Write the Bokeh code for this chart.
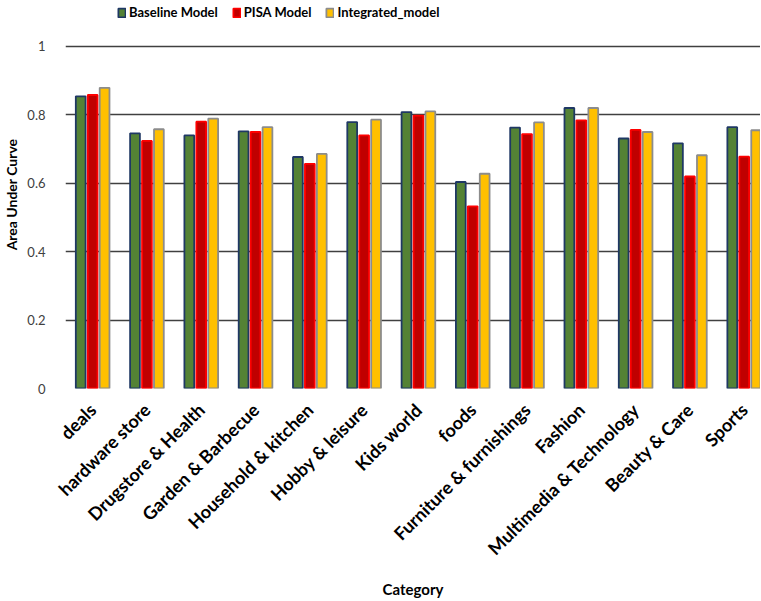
import numpy as np
from bokeh.plotting import figure
from bokeh.models import (ColumnDataSource, Range1d, FixedTicker, Legend, LegendItem)
from bokeh.transform import dodge
from bokeh.embed import file_html
from bokeh.resources import INLINE
from math import pi

categories = ["deals", "hardware store", "Drugstore & Health", "Garden & Barbecue",
              "Household & kitchen", "Hobby & leisure", "Kids world", "foods",
              "Furniture & furnishings", "Fashion", "Multimedia & Technology",
              "Beauty & Care", "Sports"]
baseline = [0.853, 0.745, 0.739, 0.751, 0.676, 0.778, 0.807, 0.603, 0.762, 0.819, 0.730, 0.716, 0.763]
pisa = [0.857, 0.723, 0.779, 0.749, 0.656, 0.739, 0.797, 0.532, 0.743, 0.783, 0.755, 0.619, 0.677]
integrated = [0.878, 0.757, 0.788, 0.763, 0.685, 0.785, 0.809, 0.627, 0.777, 0.819, 0.749, 0.681, 0.754]
y_ticks = [0, 0.2, 0.4, 0.6, 0.8, 1]

FONT = "Lato"
W, H = 760, 600
FRAME_H = 392
idx = np.arange(len(categories))
src = ColumnDataSource(dict(x=idx, baseline=baseline, pisa=pisa, integrated=integrated))

p = figure(width=W, height=H, output_backend="svg", toolbar_location=None,
           x_range=Range1d(-0.5, 12.30), y_range=Range1d(0, 1.1329),
           min_border_left=60, min_border_right=0, min_border_top=0,
           min_border_bottom=H - FRAME_H)
p.outline_line_color = None
p.background_fill_color = "white"
p.border_fill_color = "white"

series = [("baseline", "Baseline Model", "#548235", "#1F3864", -0.22),
          ("pisa", "PISA Model", "#C00000", "#FF0000", 0.0),
          ("integrated", "Integrated_model", "#FFC000", "#8C8C8C", 0.22)]
items = []
for col, label, fill, line, off in series:
    r = p.vbar(x=dodge("x", off), top=col, width=0.18, source=src,
               fill_color=fill, line_color=line, line_width=1.8)
    items.append(LegendItem(label=label, renderers=[r]))

# axes
p.xaxis.ticker = FixedTicker(ticks=list(idx))
p.xaxis.major_label_overrides = {int(i): c for i, c in zip(idx, categories)}
p.xaxis.major_label_orientation = pi / 4
p.xaxis.major_label_text_font = FONT
p.xaxis.major_label_text_font_style = "bold"
p.xaxis.major_label_text_font_size = "18px"
p.xaxis.major_label_text_color = "#000000"
p.xaxis.major_label_standoff = 12
p.xaxis.axis_line_color = None
p.xaxis.major_tick_line_color = None
p.xaxis.minor_tick_line_color = None
p.xaxis.axis_label = "Category"
p.xaxis.axis_label_text_font = FONT
p.xaxis.axis_label_text_font_style = "bold"
p.xaxis.axis_label_text_font_size = "15px"
p.xaxis.axis_label_text_color = "#000000"
p.xaxis.axis_label_standoff = 10

p.yaxis.ticker = FixedTicker(ticks=y_ticks)
p.yaxis.major_label_overrides = {0: "0", 1: "1"}
p.yaxis.major_label_text_font = FONT
p.yaxis.major_label_text_font_size = "13px"
p.yaxis.major_label_text_color = "#404040"
p.yaxis.major_label_standoff = 14
p.yaxis.axis_line_color = None
p.yaxis.major_tick_line_color = None
p.yaxis.minor_tick_line_color = None
p.yaxis.axis_label = "Area Under Curve"
p.yaxis.axis_label_text_font = FONT
p.yaxis.axis_label_text_font_style = "bold"
p.yaxis.axis_label_text_font_size = "14px"
p.yaxis.axis_label_text_color = "#000000"
p.yaxis.axis_label_standoff = 4

p.xgrid.grid_line_color = None
p.ygrid.ticker = FixedTicker(ticks=y_ticks)
p.ygrid.grid_line_color = "#404040"
p.ygrid.grid_line_width = 1.4

legend = Legend(items=items, orientation="horizontal", location=(52, FRAME_H - 24),
                label_text_font=FONT, label_text_font_style="bold",
                label_text_font_size="13px", label_text_color="#000000",
                glyph_width=9, glyph_height=11, label_standoff=3, spacing=14,
                padding=0, margin=0, border_line_color=None, background_fill_alpha=0,
                label_height=16)
p.add_layout(legend, "center")

open("out.html", "w").write(file_html(p, INLINE))
